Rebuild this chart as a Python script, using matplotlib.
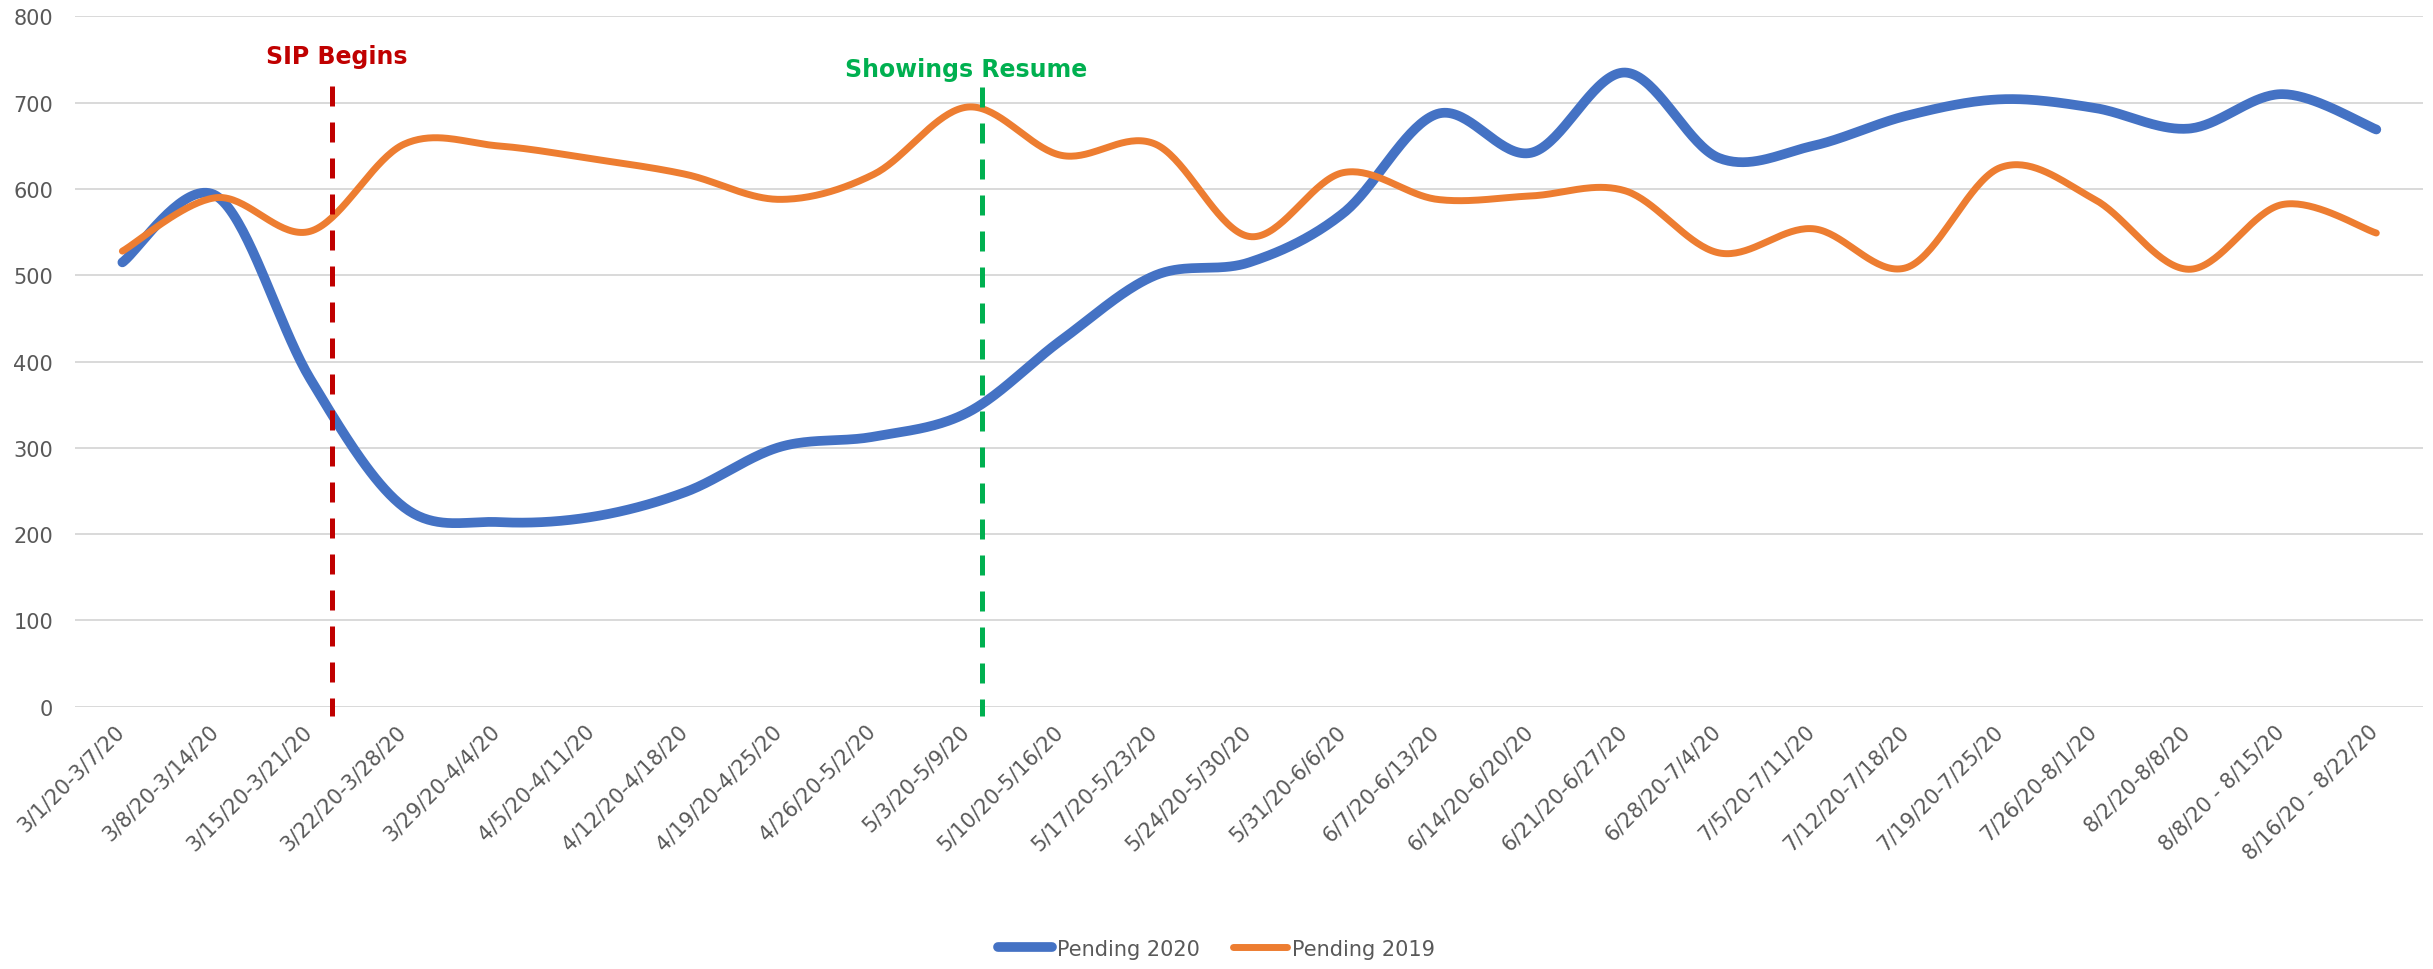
import numpy as np
import matplotlib.pyplot as plt
import matplotlib.transforms as mtransforms

weeks = ['3/1/20-3/7/20', '3/8/20-3/14/20', '3/15/20-3/21/20', '3/22/20-3/28/20',
         '3/29/20-4/4/20', '4/5/20-4/11/20', '4/12/20-4/18/20', '4/19/20-4/25/20',
         '4/26/20-5/2/20', '5/3/20-5/9/20', '5/10/20-5/16/20', '5/17/20-5/23/20',
         '5/24/20-5/30/20', '5/31/20-6/6/20', '6/7/20-6/13/20', '6/14/20-6/20/20',
         '6/21/20-6/27/20', '6/28/20-7/4/20', '7/5/20-7/11/20', '7/12/20-7/18/20',
         '7/19/20-7/25/20', '7/26/20-8/1/20', '8/2/20-8/8/20', '8/8/20 - 8/15/20',
         '8/16/20 - 8/22/20']
pending_2020 = [515, 592, 380, 231, 214, 220, 249, 301, 313, 341, 425, 500, 515,
                572, 687, 642, 735, 636, 650, 685, 704, 694, 670, 710, 669]
pending_2019 = [528, 590, 551, 652, 650, 635, 617, 588, 617, 695, 639, 652, 545,
                619, 588, 592, 598, 526, 554, 509, 625, 588, 507, 582, 549]

# event markers: position on the category axis, label
sip_pos, sip_label = 2.23, 'SIP Begins'
show_pos, show_label = 9.15, 'Showings Resume'


def smooth(x, y, n=40):
    # Excel-style smoothed line (Catmull-Rom through the points)
    p = np.column_stack([x, y]).astype(float)
    p = np.vstack([p[0], p, p[-1]])
    out = []
    t = np.linspace(0, 1, n)[:, None]
    for i in range(1, len(p) - 2):
        p0, p1, p2, p3 = p[i - 1], p[i], p[i + 1], p[i + 2]
        c1 = p1 + (p2 - p0) / 6
        c2 = p2 - (p3 - p1) / 6
        seg = ((1 - t) ** 3) * p1 + 3 * ((1 - t) ** 2) * t * c1 + 3 * (1 - t) * t ** 2 * c2 + t ** 3 * p2
        out.append(seg if i == 1 else seg[1:])
    out = np.vstack(out)
    return out[:, 0], out[:, 1]


fig = plt.figure(figsize=(24.33, 9.70), dpi=100)
ax = fig.add_axes([0.031, 0.2704, 0.965, 0.7116])

x = np.arange(len(weeks))
sx, sy = smooth(x, pending_2020)
ax.plot(sx, sy, color='#4472C4', lw=7, solid_capstyle='round', label='Pending 2020', zorder=3)
sx, sy = smooth(x, pending_2019)
ax.plot(sx, sy, color='#ED7D31', lw=5, solid_capstyle='round', label='Pending 2019', zorder=4)

ax.plot([sip_pos, sip_pos], [719, -11], color='#C00000', lw=3.6, dashes=(4, 3.2),
        clip_on=False, zorder=5)
ax.plot([show_pos, show_pos], [718, -11], color='#00B050', lw=3.6, dashes=(4, 3.2),
        clip_on=False, zorder=5)
ax.text(sip_pos + 0.05, 754, sip_label, color='#C00000', fontsize=17, fontweight='bold',
        ha='center', va='center')
ax.text(show_pos - 0.17, 739, show_label, color='#00B050', fontsize=17, fontweight='bold',
        ha='center', va='center')

ax.set_xlim(-0.5, len(weeks) - 0.5)
ax.set_ylim(0, 800)
ax.set_yticks(range(0, 801, 100))
ax.set_xticks(x)
ax.set_xticklabels(weeks, rotation=45, ha='right', va='top')
ax.tick_params(axis='x', length=0, pad=10, labelsize=15, labelcolor='#595959')
ax.tick_params(axis='y', length=0, pad=16, labelsize=15, labelcolor='#595959')
shift = mtransforms.ScaledTranslation(6 / 100, 0, fig.dpi_scale_trans)
for lab in ax.get_xticklabels():
    lab.set_transform(lab.get_transform() + shift)
ax.grid(axis='y', color='#D9D9D9', lw=1.4)
ax.set_axisbelow(True)
for s in ax.spines.values():
    s.set_visible(False)

fig.legend(loc='center', bbox_to_anchor=(0.5, 0.021), ncol=2, frameon=False,
           fontsize=15, labelcolor='#595959', handlelength=2.6, handletextpad=0.25,
           columnspacing=1.6)

fig.savefig('out.png', dpi=100)
